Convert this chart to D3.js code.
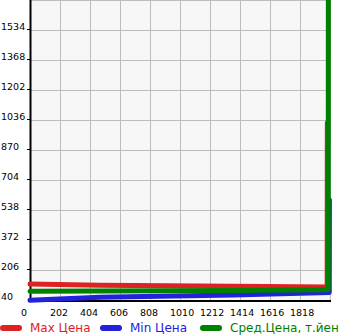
<!DOCTYPE html>
<html>
<head>
<meta charset="utf-8">
<script src="https://cdn.jsdelivr.net/npm/d3@7"></script>
<style>
  body { margin: 0; background: #fff; }
  svg { display: block; font-family: "DejaVu Sans", sans-serif; }
</style>
</head>
<body>
<svg width="345" height="335"></svg>
<script>
var svg = d3.select("svg");

// ticks
var xTicks = [0, 202, 404, 606, 808, 1010, 1212, 1414, 1616, 1818, 2020];
var yTicks = [40, 206, 372, 538, 704, 870, 1036, 1202, 1368, 1534, 1700];

// series: x positions and values
var maxX = [0, 470, 1360, 2001, 2002];
var maxY = [128, 122, 116, 112, 1019];
var minX = [0, 470, 1367, 2015, 2016];
var minY = [38, 55, 68, 82, 593];
var avgX = [0, 470, 1360, 2008, 2009];
var avgY = [88, 90, 93, 97, 1800];

var seriesNames = ["Max Цена", "Min Цена", "Сред.Цена, т.йен"];
var seriesColors = ["#dd2222", "#2222dd", "#008000"];

var x = d3.scaleLinear().domain([0, 2020]).range([30, 330]);
var y = d3.scaleLinear().domain([40, 1700]).range([300, 0]);

// plot background
svg.append("rect")
    .attr("x", x(0)).attr("y", y(1700))
    .attr("width", x(2020) - x(0)).attr("height", y(40) - y(1700))
    .attr("fill", "#f7f7f7");

// grid
svg.append("g").selectAll("line")
    .data(xTicks.slice(1))
    .enter().append("line")
    .attr("x1", function (d) { return x(d); })
    .attr("x2", function (d) { return x(d); })
    .attr("y1", y(1700)).attr("y2", y(40))
    .attr("stroke", "#bdbdbd").attr("stroke-width", 1)
    .attr("shape-rendering", "crispEdges");

svg.append("g").selectAll("line")
    .data(yTicks.slice(1))
    .enter().append("line")
    .attr("x1", x(0)).attr("x2", x(2020))
    .attr("y1", function (d) { return y(d); })
    .attr("y2", function (d) { return y(d); })
    .attr("stroke", "#bdbdbd").attr("stroke-width", 1)
    .attr("shape-rendering", "crispEdges");

// axes
svg.append("line")
    .attr("x1", x(0) + 0.5).attr("x2", x(0) + 0.5)
    .attr("y1", y(1700)).attr("y2", y(40) + 2)
    .attr("stroke", "#000").attr("stroke-width", 2);
svg.append("line")
    .attr("x1", x(0)).attr("x2", x(2020) + 1)
    .attr("y1", y(40) + 1).attr("y2", y(40) + 1)
    .attr("stroke", "#000").attr("stroke-width", 2);

// small y ticks
svg.append("g").selectAll("line")
    .data(yTicks.slice(1, -1))
    .enter().append("line")
    .attr("x1", 27).attr("x2", 30)
    .attr("y1", function (d) { return y(d) - 0.5; })
    .attr("y2", function (d) { return y(d) - 0.5; })
    .attr("stroke", "#000").attr("stroke-width", 1);

// tick labels
svg.append("g").selectAll("text")
    .data(yTicks.slice(0, -1))
    .enter().append("text")
    .attr("x", 1)
    .attr("y", function (d) { return y(d) - 0.5; })
    .attr("font-size", "9.5px")
    .attr("fill", "#000")
    .text(function (d) { return d; });

svg.append("g").selectAll("text")
    .data(xTicks.slice(0, -1))
    .enter().append("text")
    .attr("x", function (d) { return d === 0 ? x(d) - 9 : x(d) - 10; })
    .attr("y", 315.5)
    .attr("font-size", "9.5px")
    .attr("fill", "#000")
    .text(function (d) { return d; });

// lines
var line = d3.line()
    .x(function (d) { return x(d[0]); })
    .y(function (d) { return y(d[1]); });

var series = [d3.zip(maxX, maxY), d3.zip(minX, minY), d3.zip(avgX, avgY)];

svg.append("g").selectAll("path")
    .data(series)
    .enter().append("path")
    .attr("d", line)
    .attr("fill", "none")
    .attr("stroke", function (d, i) { return seriesColors[i]; })
    .attr("stroke-width", 5)
    .attr("stroke-linecap", "round")
    .attr("stroke-linejoin", "round");

// legend
var legend = svg.append("g").selectAll("g")
    .data(seriesNames)
    .enter().append("g")
    .attr("transform", function (d, i) { return "translate(" + (i * 100) + ",0)"; });

legend.append("line")
    .attr("x1", 3).attr("x2", 19)
    .attr("y1", 328).attr("y2", 328)
    .attr("stroke", function (d, i) { return seriesColors[i]; })
    .attr("stroke-width", 6)
    .attr("stroke-linecap", "round");

legend.append("text")
    .attr("x", 30).attr("y", 332)
    .attr("font-size", "12px")
    .attr("fill", function (d, i) { return seriesColors[i]; })
    .text(function (d) { return d; });
</script>
</body>
</html>
